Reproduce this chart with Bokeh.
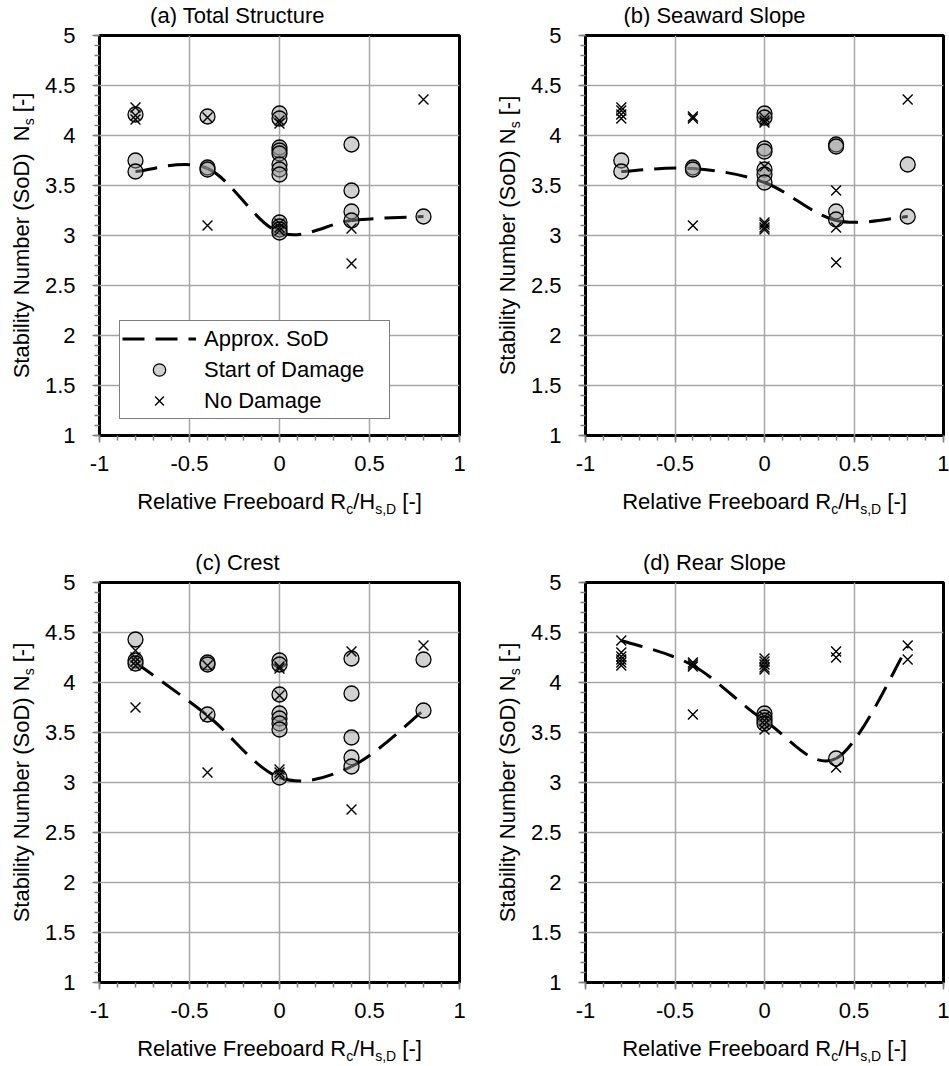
import re
import numpy as np
from bokeh.plotting import figure
from bokeh.models import (Range1d, FixedTicker, Legend, LegendItem,
                          CustomJSTickFormatter, ColumnDataSource)
from bokeh.layouts import column, row
from bokeh.core.properties import value
from bokeh.embed import file_html
from bokeh.resources import INLINE

# ---------------- data ----------------
x_ticks = [-1, -0.5, 0, 0.5, 1]
x_tick_labels = ["-1", "-0.5", "0", "0.5", "1"]
y_ticks = [1, 1.5, 2, 2.5, 3, 3.5, 4, 4.5, 5]
y_tick_labels = ["1", "1.5", "2", "2.5", "3", "3.5", "4", "4.5", "5"]

panel_titles = ["(a) Total Structure", "(b) Seaward Slope", "(c) Crest", "(d) Rear Slope"]
legend_labels = ["Approx. SoD", "Start of Damage", "No Damage"]

fit_x = [-0.8, -0.4, 0.0, 0.4, 0.8]

# (a) Total Structure
a_fit_y = [3.64, 3.67, 3.03, 3.15, 3.19]
a_sod_x = [-0.8, -0.8, -0.8, -0.4, -0.4, -0.4, 0, 0, 0, 0, 0, 0, 0, 0, 0, 0, 0, 0,
           0.4, 0.4, 0.4, 0.4, 0.8]
a_sod_y = [4.21, 3.75, 3.64, 4.19, 3.68, 3.66, 4.22, 4.17, 3.88, 3.85, 3.82, 3.71,
           3.66, 3.61, 3.13, 3.09, 3.06, 3.03, 3.91, 3.45, 3.24, 3.15, 3.19]
a_nd_x = [-0.8, -0.8, -0.8, -0.4, -0.4, 0, 0, 0, 0, 0, 0.4, 0.4, 0.8]
a_nd_y = [4.28, 4.20, 4.16, 4.18, 3.10, 4.15, 4.12, 3.12, 3.08, 3.05, 3.07, 2.72, 4.36]

# (b) Seaward Slope
b_fit_y = [3.64, 3.67, 3.53, 3.15, 3.19]
b_sod_x = [-0.8, -0.8, -0.4, -0.4, 0, 0, 0, 0, 0, 0, 0, 0.4, 0.4, 0.4, 0.4, 0.8, 0.8]
b_sod_y = [3.75, 3.64, 3.68, 3.66, 4.22, 4.18, 3.87, 3.84, 3.66, 3.61, 3.53,
           3.91, 3.89, 3.24, 3.16, 3.71, 3.19]
b_nd_x = [-0.8, -0.8, -0.8, -0.8, -0.4, -0.4, -0.4, 0, 0, 0, 0, 0, 0, 0, 0,
          0.4, 0.4, 0.4, 0.8]
b_nd_y = [4.28, 4.25, 4.21, 4.17, 4.19, 4.17, 3.10, 4.18, 4.15, 4.13, 3.69, 3.13,
          3.11, 3.08, 3.06, 3.45, 3.08, 2.73, 4.36]

# (c) Crest
c_fit_y = [4.20, 3.67, 3.05, 3.16, 3.72]
c_sod_x = [-0.8, -0.8, -0.8, -0.4, -0.4, -0.4, 0, 0, 0, 0, 0, 0, 0, 0,
           0.4, 0.4, 0.4, 0.4, 0.4, 0.8, 0.8]
c_sod_y = [4.43, 4.22, 4.19, 4.20, 4.18, 3.68, 4.22, 4.18, 3.88, 3.69, 3.64, 3.59,
           3.53, 3.05, 4.24, 3.89, 3.45, 3.25, 3.16, 4.23, 3.72]
c_nd_x = [-0.8, -0.8, -0.8, -0.8, -0.8, -0.4, -0.4, -0.4, 0, 0, 0, 0, 0, 0,
          0.4, 0.4, 0.8]
c_nd_y = [4.32, 4.25, 4.21, 4.17, 3.75, 4.17, 3.66, 3.10, 4.16, 4.14, 3.87, 3.13,
          3.10, 3.07, 4.31, 2.73, 4.37]

# (d) Rear Slope
d_fit_y = [4.42, 4.17, 3.62, 3.24, 4.36]
d_sod_x = [0.0, 0.0, 0.0, 0.0, 0.4]
d_sod_y = [3.69, 3.65, 3.62, 3.59, 3.24]
d_nd_x = [-0.8, -0.8, -0.8, -0.8, -0.8, -0.8, -0.4, -0.4, -0.4, -0.4,
          0, 0, 0, 0, 0, 0, 0, 0, 0, 0.4, 0.4, 0.4, 0.8, 0.8]
d_nd_y = [4.42, 4.30, 4.26, 4.23, 4.20, 4.17, 4.20, 4.18, 4.16, 3.68,
          4.24, 4.21, 4.18, 4.15, 4.13, 3.66, 3.62, 3.58, 3.53, 4.31, 4.25, 3.15,
          4.37, 4.23]

x_title_pieces = [("Relative Freeboard R", "main"), ("c", "sub"), ("/H", "main"),
                  ("s,D", "sub"), (" [-]", "main")]

# ---------------- style / layout ----------------
X_START, X_END = -1, 1
Y_START, Y_END = 1, 5
FONT = "Liberation Sans"
FS = 22
SUB = 14
SUB_SHIFT = 7.5    # centre-to-centre drop of a subscript
TICK_COLOR = "#808080"
GRID_COLOR = "#a6a6a6"

YT_W = 37          # y-title strip width
MAIN_LEFT = 62     # room for y tick labels
MAIN_TOP = 8
MAIN_BOTTOM = 48
FRAME_H = 400
TITLE_H = 27
XT_H_TOP = 64
XT_H_BOT = 36
XT_CENTER = 66     # x-title centre below the frame
YT_X = 21          # y-title centre inside the strip
TITLE_Y = 11.6     # title centre above the bottom of the title strip

x_minor = [round(v, 2) for v in np.arange(-1.0, 1.0001, 0.1)]
y_minor = [round(v, 2) for v in np.arange(1.0, 5.0001, 0.1)]

ARIAL_W = {' ': 278, '(': 333, ')': 333, '[': 278, ']': 278, '-': 333, '/': 278,
           ',': 278, '.': 278, 'A': 667, 'D': 722, 'F': 611, 'H': 722, 'N': 722,
           'R': 722, 'S': 667, 'T': 611, 'a': 556, 'b': 556, 'c': 500, 'd': 556,
           'e': 556, 'f': 278, 'g': 556, 'i': 222, 'l': 222, 'm': 833, 'o': 556,
           'p': 556, 'r': 333, 's': 500, 't': 278, 'u': 556, 'v': 500, 'y': 500}


def tw(s, size):
    return sum(ARIAL_W.get(ch, 556) for ch in s) * size / 1000.0


FMT = ("const i = tick_values.findIndex((t) => Math.abs(t - tick) < 1e-9);"
       "return i >= 0 ? tick_labels[i] : tick.toString();")


def bezier_ctrl(xs, ys):
    n = len(xs)
    out = dict(x0=[], y0=[], x1=[], y1=[], cx0=[], cy0=[], cx1=[], cy1=[])
    for i in range(n - 1):
        a = max(i - 1, 0)
        b = min(i + 2, n - 1)
        out["x0"].append(xs[i]); out["y0"].append(ys[i])
        out["x1"].append(xs[i + 1]); out["y1"].append(ys[i + 1])
        out["cx0"].append(xs[i] + (xs[i + 1] - xs[a]) / 6.0)
        out["cy0"].append(ys[i] + (ys[i + 1] - ys[a]) / 6.0)
        out["cx1"].append(xs[i + 1] - (xs[b] - xs[i]) / 6.0)
        out["cy1"].append(ys[i + 1] - (ys[b] - ys[i]) / 6.0)
    return out


def text_fig(w, h):
    f = figure(frame_width=w, frame_height=h,
               x_range=Range1d(0, w), y_range=Range1d(0, h),
               x_axis_type=None, y_axis_type=None, output_backend="svg",
               toolbar_location=None, min_border=0,
               min_border_left=0, min_border_right=0,
               min_border_top=0, min_border_bottom=0)
    f.frame_align = False
    f.title.visible = False
    f.outline_line_color = None
    f.background_fill_color = "white"
    f.border_fill_color = "white"
    return f


def rich(pieces, horizontal, centre, mid):
    """Lay out (text, kind) pieces around `centre`; `mid` is the text middle line."""
    sizes = [FS if k == "main" else SUB for _, k in pieces]
    total = sum(tw(t, s) for (t, _), s in zip(pieces, sizes))
    cum = centre - total / 2.0
    d = dict(x=[], y=[], text=[], size=[], angle=[])
    for (text, kind), size in zip(pieces, sizes):
        shift = SUB_SHIFT if kind == "sub" else 0
        for m in re.finditer(r"\S+(?: \S+)*", text):
            pos = cum + tw(text[:m.start()], size)
            if horizontal:
                d["x"].append(pos); d["y"].append(mid - shift); d["angle"].append(0.0)
            else:
                d["x"].append(mid + shift); d["y"].append(pos); d["angle"].append(np.pi / 2)
            d["text"].append(m.group())
            d["size"].append(f"{size}px")
        cum += tw(text, size)
    return d


def add_text(f, d, align="left"):
    f.text(x="x", y="y", text="text", angle="angle", text_font_size="size",
           source=ColumnDataSource(d), text_font=value(FONT), text_color="black",
           text_align=value(align), text_baseline=value("middle"))


def main_fig(frame_w, right, sod_x, sod_y, nd_x, nd_y, fit_y, legend=False):
    p = figure(frame_width=frame_w, frame_height=FRAME_H,
               x_range=Range1d(X_START, X_END), y_range=Range1d(Y_START, Y_END),
               output_backend="svg", toolbar_location=None,
               min_border_left=MAIN_LEFT, min_border_right=right,
               min_border_top=MAIN_TOP, min_border_bottom=MAIN_BOTTOM)
    p.frame_align = False
    p.title.visible = False
    p.background_fill_color = "white"
    p.border_fill_color = "white"
    p.outline_line_color = "black"
    p.outline_line_width = 3

    xt = FixedTicker(ticks=x_ticks, minor_ticks=x_minor)
    yt = FixedTicker(ticks=y_ticks, minor_ticks=y_minor)
    p.xaxis.ticker = xt
    p.yaxis.ticker = yt
    p.xgrid.ticker = xt
    p.ygrid.ticker = yt
    p.xaxis.formatter = CustomJSTickFormatter(
        args=dict(tick_values=x_ticks, tick_labels=x_tick_labels), code=FMT)
    p.yaxis.formatter = CustomJSTickFormatter(
        args=dict(tick_values=y_ticks, tick_labels=y_tick_labels), code=FMT)
    for ax in p.axis:
        ax.axis_line_color = None
        ax.major_tick_line_color = TICK_COLOR
        ax.major_tick_line_width = 1.5
        ax.major_tick_out = 7
        ax.major_tick_in = 0
        ax.minor_tick_line_color = TICK_COLOR
        ax.minor_tick_line_width = 1.5
        ax.minor_tick_out = 5
        ax.minor_tick_in = 0
        ax.major_label_text_font = FONT
        ax.major_label_text_font_size = f"{FS}px"
        ax.major_label_text_color = "black"
    p.xaxis.major_label_standoff = 13
    p.yaxis.major_label_standoff = 17
    p.grid.grid_line_color = GRID_COLOR
    p.grid.grid_line_width = 1.5

    ctrl = ColumnDataSource(bezier_ctrl(fit_x, fit_y))
    r_fit = p.bezier(x0="x0", y0="y0", x1="x1", y1="y1", cx0="cx0", cy0="cy0",
                     cx1="cx1", cy1="cy1", source=ctrl, line_color="black",
                     line_width=3, line_dash="22 11")
    r_sod = p.scatter(sod_x, sod_y, marker="circle", size=15,
                      fill_color="#999999", fill_alpha=0.45,
                      line_color="black", line_width=1.3)
    r_nd = p.scatter(nd_x, nd_y, marker="x", size=14, line_color="black",
                     line_width=1.4)

    if legend:
        items = [LegendItem(label=legend_labels[0], renderers=[r_fit]),
                 LegendItem(label=legend_labels[1], renderers=[r_sod]),
                 LegendItem(label=legend_labels[2], renderers=[r_nd])]
        leg = Legend(items=items, location=(20, 16), padding=2, spacing=0,
                     margin=0, glyph_width=74, glyph_height=31, label_height=31,
                     label_width=183, label_standoff=8)
        leg.label_text_font = FONT
        leg.label_text_font_size = f"{FS}px"
        leg.label_text_color = "black"
        leg.border_line_color = "black"
        leg.border_line_width = 1.5
        leg.background_fill_color = "white"
        leg.background_fill_alpha = 1.0
        p.add_layout(leg)
    return p


def block(title, title_dx, frame_w, right, xt_h, ylabel, sod_x, sod_y, nd_x, nd_y,
          fit_y, legend=False):
    bw = YT_W + MAIN_LEFT + frame_w + right
    mh = MAIN_TOP + FRAME_H + MAIN_BOTTOM
    cx = YT_W + MAIN_LEFT + frame_w / 2.0

    tf = text_fig(bw, TITLE_H)
    add_text(tf, dict(x=[cx + title_dx], y=[TITLE_Y], text=[title],
                      size=[f"{FS}px"], angle=[0.0]), align="center")

    yf = text_fig(YT_W, mh)
    add_text(yf, rich([(ylabel, "main"), ("s", "sub"), (" [-]", "main")], False,
                      MAIN_BOTTOM + FRAME_H / 2.0, YT_X))

    mf = main_fig(frame_w, right, sod_x, sod_y, nd_x, nd_y, fit_y, legend)

    xf = text_fig(bw, xt_h)
    add_text(xf, rich(x_title_pieces, True, cx, xt_h - (XT_CENTER - MAIN_BOTTOM)))

    return column(tf, row(yf, mf), xf)


A = block(panel_titles[0], -42, 360, 27, XT_H_TOP, "Stability Number (SoD)  N",
          a_sod_x, a_sod_y, a_nd_x, a_nd_y, a_fit_y, legend=True)
B = block(panel_titles[1], -50, 358, 6, XT_H_TOP, "Stability Number (SoD) N",
          b_sod_x, b_sod_y, b_nd_x, b_nd_y, b_fit_y)
C = block(panel_titles[2], -42, 360, 27, XT_H_BOT, "Stability Number (SoD) N",
          c_sod_x, c_sod_y, c_nd_x, c_nd_y, c_fit_y)
D = block(panel_titles[3], -50, 358, 6, XT_H_BOT, "Stability Number (SoD) N",
          d_sod_x, d_sod_y, d_nd_x, d_nd_y, d_fit_y)

layout = column(row(A, B), row(C, D))
open("out.html", "w").write(file_html(layout, INLINE))
